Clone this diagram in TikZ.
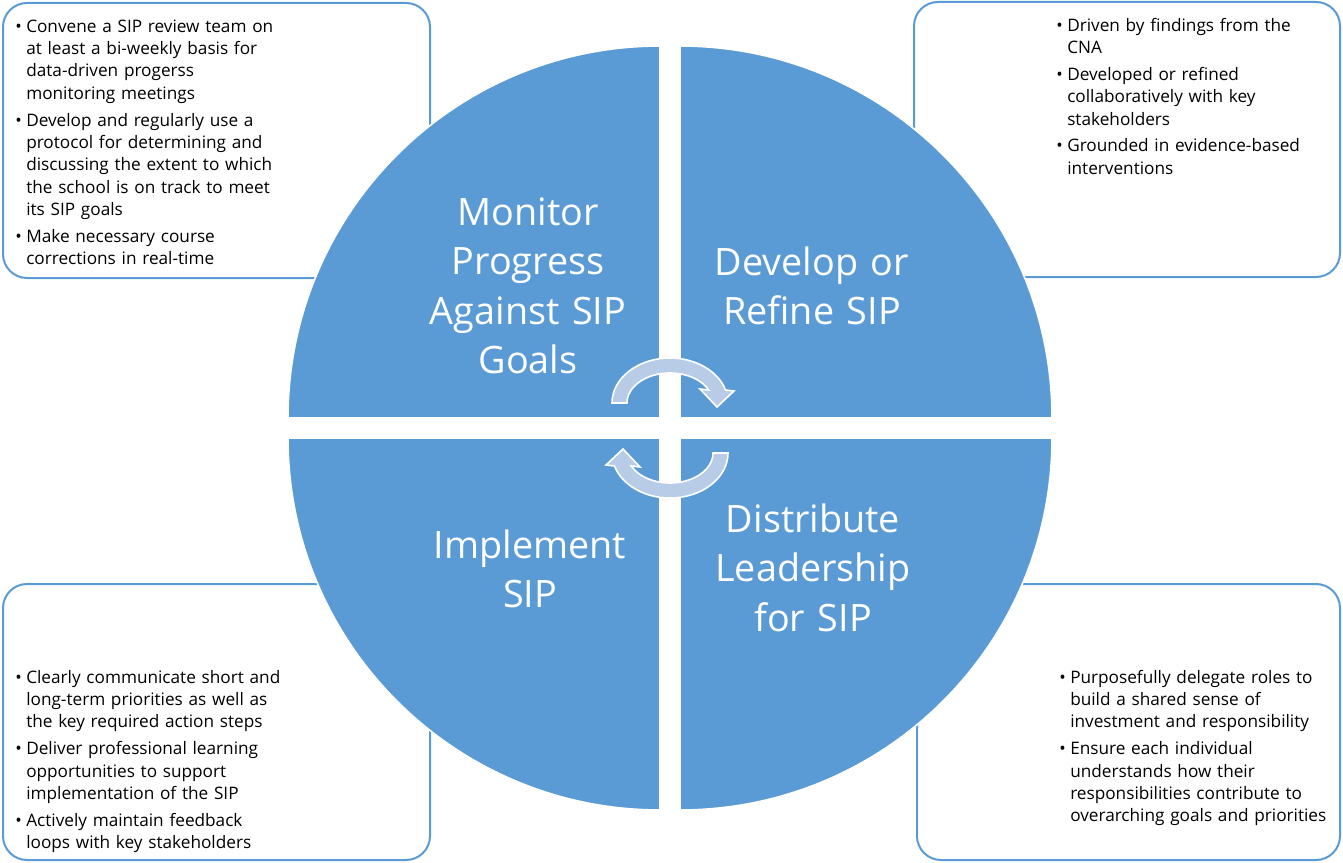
\documentclass[tikz,border=0pt]{standalone}
\usepackage{fontspec}
\setmainfont{Open Sans}
\definecolor{sipblue}{RGB}{91,155,213}
\definecolor{arrowfill}{RGB}{184,204,232}
\newcommand{\bul}{\par\noindent\strut\hspace*{-8.25pt}\makebox[8.25pt][l]{\textbullet}}
\begin{document}
\begin{tikzpicture}[x=0.75pt,y=-0.75pt,
  infobox/.style={draw=sipblue, line width=1.5pt, rounded corners=18pt, fill=white},
  quad/.style={fill=sipblue, draw=white, line width=1.2pt},
  cyclearrow/.style={fill=arrowfill, draw=white, line width=1.2pt, line join=miter},
  bullettext/.style={anchor=north west, inner sep=0pt, text width=330pt, align=left,
    font=\fontsize{12.9}{16.8}\selectfont,
    execute at begin node={\setlength{\parskip}{3.3pt}\leftskip=8.25pt}},
  biglabel/.style={anchor=north, inner sep=0pt, text width=300pt, align=center, text=white,
    font=\fontsize{28.3}{36.9}\selectfont}]
\useasboundingbox (0,0) rectangle (1343,863);
% outer boxes
\draw[infobox] (3,3) rectangle (430,278);
\draw[infobox] (914,2) rectangle (1340,277);
\draw[infobox] (3,584) rectangle (430,860);
\draw[infobox] (917,584) rectangle (1340,860);
% quadrants
\draw[quad] (660,418) -- (288,418) arc[start angle=180, end angle=270, radius=372] -- cycle;
\draw[quad] (680,418) -- (680,46) arc[start angle=270, end angle=360, radius=372] -- cycle;
\draw[quad] (660,438) -- (660,810) arc[start angle=90, end angle=180, radius=372] -- cycle;
\draw[quad] (680,438) -- (1052,438) arc[start angle=0, end angle=90, radius=372] -- cycle;
% cycle arrows
\draw[cyclearrow] (612,403) arc[start angle=180, end angle=343.2, x radius=58, y radius=45]
  -- (734,391) -- (717,407) -- (700,389) -- (708.7,390)
  arc[start angle=334.3, end angle=180, x radius=43, y radius=30] -- cycle;
\begin{scope}[rotate around={180:(670,428)}]
\draw[cyclearrow] (612,403) arc[start angle=180, end angle=343.2, x radius=58, y radius=45]
  -- (734,391) -- (717,407) -- (700,389) -- (708.7,390)
  arc[start angle=334.3, end angle=180, x radius=43, y radius=30] -- cycle;
\end{scope}
% quadrant labels
\node[biglabel] (monitor) at (528,191) {\strut Monitor\\ Progress\\ Against SIP\\ Goals};
\node[biglabel] (develop) at (812,241) {\strut Develop or\\ Refine SIP};
\node[biglabel] (implement) at (530,524) {\strut Implement\\ SIP};
\node[biglabel] (distribute) at (813,498) {\strut Distribute\\ Leadership\\ for SIP};
% bullet texts
\node[bullettext] (tltext) at (15,5) {\bul Convene a SIP review team on\\ at least a bi-weekly basis for\\ data-driven progerss\\ monitoring meetings
\bul Develop and regularly use a\\ protocol for determining and\\ discussing the extent to which\\ the school is on track to meet\\ its SIP goals
\bul Make necessary course\\ corrections in real-time};
\node[bullettext] (trtext) at (1056,4) {\bul Driven by findings from the\\ CNA
\bul Developed or refined\\ collaboratively with key\\ stakeholders
\bul Grounded in evidence-based\\ interventions};
\node[bullettext] (bltext) at (15,656) {\bul Clearly communicate short and\\ long-term priorities as well as\\ the key required action steps
\bul Deliver professional learning\\ opportunities to support\\ implementation of the SIP
\bul Actively maintain feedback\\ loops with key stakeholders};
\node[bullettext] (brtext) at (1059,656) {\bul Purposefully delegate roles to\\ build a shared sense of\\ investment and responsibility
\bul Ensure each individual\\ understands how their\\ responsibilities contribute to\\ overarching goals and priorities};
\end{tikzpicture}
\end{document}
